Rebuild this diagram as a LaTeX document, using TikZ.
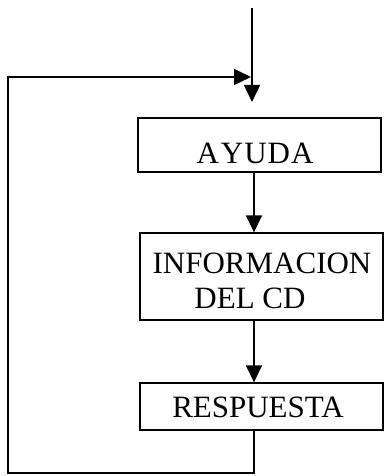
\documentclass[tikz,border=0pt]{standalone}
\usepackage{fontspec}
\setmainfont{Liberation Serif}
\usetikzlibrary{arrows.meta}
\begin{document}
\begin{tikzpicture}[x=1pt,y=-1pt,
  line width=1.5pt,
  box/.style={draw, rectangle, inner sep=0pt, line width=1.3pt},
  lbl/.style={anchor=base, inner sep=0pt, font=\fontsize{31}{35}\selectfont},
  arr/.style={-{Triangle[length=17pt,width=16pt]}}]
\useasboundingbox (0,0) rectangle (386,476);
% boxes (centres and sizes)
\node[box, minimum width=243pt, minimum height=54pt] (ayuda) at (259.5,145) {};
\node[box, minimum width=243pt, minimum height=87pt] (info) at (261.5,276.5) {};
\node[box, minimum width=243pt, minimum height=47pt] (resp) at (261.5,406.5) {};
% labels
\node[lbl] (tayuda) at (255,163) {A\kern2pt Y\kern1pt U\kern1pt D\kern1pt A};
\node[lbl] (tinfo1) at (262,273) {INFORMACION};
\node[lbl] (tinfo2) at (250,308) {DEL CD};
\node[lbl] (tresp) at (258,417) {RESPUESTA};
% helper coordinates
\coordinate (top) at (252,8);
\coordinate (entry) at (252,102);
\coordinate (cx) at (254,0);
\coordinate (bl) at (8,473);
\coordinate (hm) at (251,77);
% connectors
\draw[arr] (top) -- (entry);
\draw[arr] (ayuda.south -| cx) -- (info.north -| cx);
\draw[arr] (info.south -| cx) -- (resp.north -| cx);
\draw[arr] (resp.south -| cx) |- (bl) |- (hm);
\end{tikzpicture}
\end{document}
